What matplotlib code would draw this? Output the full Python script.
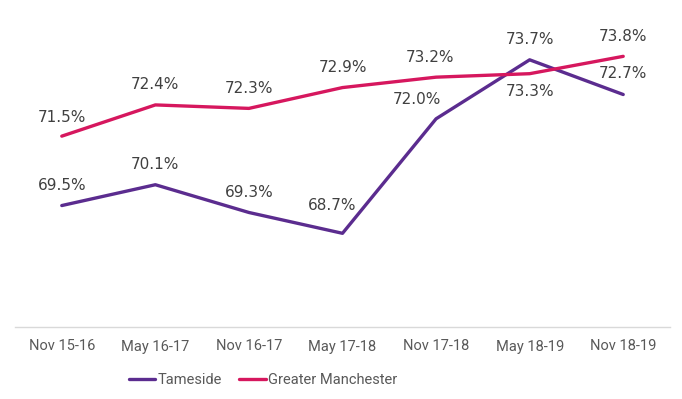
import matplotlib.pyplot as plt

# data
periods = ['Nov 15-16', 'May 16-17', 'Nov 16-17', 'May 17-18',
           'Nov 17-18', 'May 18-19', 'Nov 18-19']
tameside = [69.5, 70.1, 69.3, 68.7, 72.0, 73.7, 72.7]
greater_manchester = [71.5, 72.4, 72.3, 72.9, 73.2, 73.3, 73.8]

# label offsets in pixels (dx, dy) relative to each point
tameside_offsets = [(0, 20), (0, 20), (0, 20), (-10, 28), (-19, 19), (0, 20), (0, 21)]
gm_offsets = [(0, 19), (0, 20), (0, 20), (0, 20), (-6, 20), (0, -18), (0, 20)]

purple = '#5B2C8F'
magenta = '#D6175E'
label_col = '#404040'
tick_col = '#595959'
narrow = ['Roboto', 'DejaVu Sans']

fig = plt.figure(figsize=(6.82, 3.99), dpi=100)
ax = fig.add_axes([15 / 682, 1 - 327 / 399, 655 / 682, (327 - 14.7) / 399])

x = range(len(periods))
ax.plot(x, tameside, color=purple, lw=2.4, label='Tameside', solid_capstyle='round')
ax.plot(x, greater_manchester, color=magenta, lw=2.4, label='Greater Manchester',
        solid_capstyle='round')

for vals, offs in ((tameside, tameside_offsets), (greater_manchester, gm_offsets)):
    for i, (v, (dx, dy)) in enumerate(zip(vals, offs)):
        ax.annotate(f'{v:.1f}%', (i, v), xytext=(dx, dy), textcoords='offset pixels',
                    ha='center', va='center', fontsize=11, color=label_col,
                    family='DejaVu Sans')

ax.set_xlim(-0.5, len(periods) - 0.5)
ax.set_ylim(66, 75)
ax.set_yticks([])
ax.set_xticks(list(x))
ax.set_xticklabels(periods, family=narrow, fontsize=10.5, color=tick_col)
ax.tick_params(axis='x', length=0, pad=9)
for s in ['top', 'left', 'right']:
    ax.spines[s].set_visible(False)
ax.spines['bottom'].set_color('#D9D9D9')
ax.spines['bottom'].set_linewidth(1)

leg = fig.legend(loc='center', bbox_to_anchor=(263 / 682, 1 - 380 / 399), ncol=2,
                 frameon=False, handlelength=1.8, handletextpad=0.15,
                 columnspacing=1.2, prop={'family': narrow, 'size': 10.5})
for t in leg.get_texts():
    t.set_color(tick_col)

fig.savefig('out.png', dpi=100)
